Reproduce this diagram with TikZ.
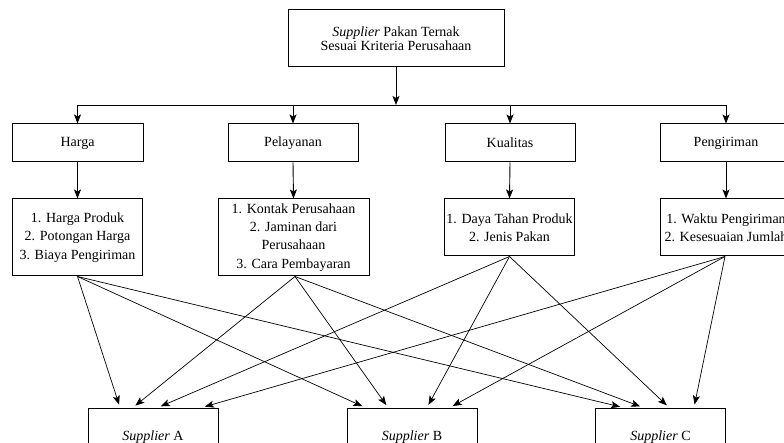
\documentclass[tikz,border=0pt]{standalone}
\usepackage{fontspec}
\setmainfont{Liberation Serif}
\usetikzlibrary{arrows.meta,calc}
\begin{document}
\begin{tikzpicture}[x=1pt,y=-1pt,
  every node/.style={font=\fontsize{14}{18.3}\selectfont, align=center, inner sep=0pt},
  box/.style={draw, line width=1pt, minimum width=130pt, minimum height=38pt},
  arr/.style={draw, line width=0.9pt, -{Stealth[length=9pt,width=7pt,inset=2pt]}},
  thin arr/.style={draw, line width=0.7pt, -{Stealth[length=9pt,width=7pt,inset=2pt]}, shorten >=3pt}]
\useasboundingbox (0,0) rectangle (784,443);
\clip (0,0) rectangle (784,443);
% top
\node[box, minimum width=216pt, minimum height=57pt, font=\fontsize{14}{14.5}\selectfont] (top) at (396,38.5) {\textit{Supplier} Pakan Ternak\\Sesuai Kriteria Perusahaan};
% level 2
\node[box, minimum width=131pt] (hb) at (77.5,143) {Harga};
\node[box] (pb) at (293,143) {Pelayanan};
\node[box] (kb) at (510,143) {Kualitas};
\node[box, minimum width=132pt] (gb) at (726,143) {Pengiriman};
% level 3
\node[box, minimum height=77pt] (hl) at (77.5,237.5) {1. Harga Produk\\2. Potongan Harga\\3. Biaya Pengiriman};
\node[box, minimum width=151pt, minimum height=77pt] (pl) at (293.5,237.5) {1. Kontak Perusahaan\\2. Jaminan dari\\Perusahaan\\3. Cara Pembayaran};
\node[box, minimum height=57pt] (kl) at (509.5,227.5) {1. Daya Tahan Produk\\2. Jenis Pakan};
\node[box, minimum width=132pt, minimum height=57pt] (gl) at (726,227.5) {1. Waktu Pengiriman\\2. Kesesuaian Jumlah};
% suppliers
\node[box, minimum height=58pt] (sa) at (153,437) {\textit{Supplier} A};
\node[box, minimum height=58pt] (sb) at (412,437) {\textit{Supplier} B};
\node[box, minimum height=58pt] (sc) at (660.5,437) {\textit{Supplier} C};
% tree connectors
\coordinate (j) at (396,105);
\draw[arr] (top.south) -- (j);
\draw[arr] (j) -| (hb.north);
\draw[arr] (j) -| (pb.north);
\draw[arr] (j) -| (kb.north);
\draw[arr] (j) -| (gb.north);
\draw[arr] (hb.south) -- (hl.north);
\draw[arr] (pb.south) -- (pl.north);
\draw[arr] (kb.south) -- (kl.north);
\draw[arr] (gb.south) -- (gl.north);
% cross connectors
\draw[thin arr] (hl.south) -- ([xshift=-33pt]sa.north);
\draw[thin arr] (hl.south) -- ([xshift=-47pt]sb.north);
\draw[thin arr] (hl.south) -- ([xshift=-37.5pt]sc.north);
\draw[thin arr] ([xshift=1.5pt]pl.south) -- ([xshift=-20pt]sa.north);
\draw[thin arr] ([xshift=1.5pt]pl.south) -- ([xshift=-24pt]sb.north);
\draw[thin arr] ([xshift=1.5pt]pl.south) -- ([xshift=-17.5pt]sc.north);
\draw[thin arr] (kl.south) -- ([xshift=5pt]sa.north);
\draw[thin arr] (kl.south) -- ([xshift=15pt]sb.north);
\draw[thin arr] (kl.south) -- ([xshift=8.5pt]sc.north);
\draw[thin arr] ([xshift=-1pt]gl.south) -- ([xshift=49pt]sa.north);
\draw[thin arr] ([xshift=-1pt]gl.south) -- ([xshift=38pt]sb.north);
\draw[thin arr] ([xshift=-1pt]gl.south) -- ([xshift=33.5pt]sc.north);
\end{tikzpicture}
\end{document}
